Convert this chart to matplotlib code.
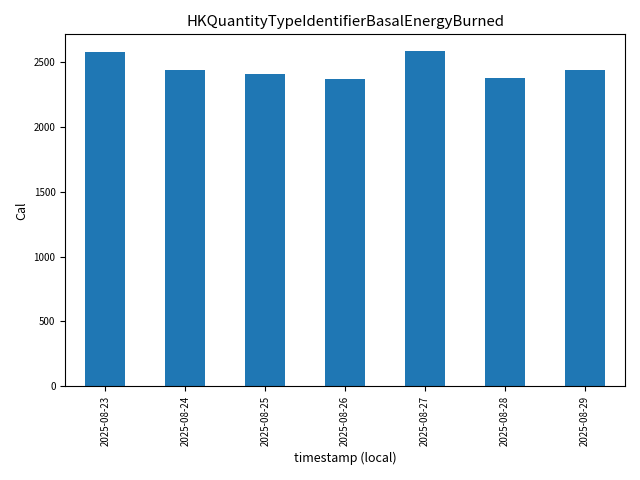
import matplotlib
matplotlib.use("Agg")
import matplotlib.pyplot as plt
import pandas as pd

plt.rcParams['font.family'] = ['Noto Sans CJK JP', 'DejaVu Sans']

dates = ["2025-08-23", "2025-08-24", "2025-08-25", "2025-08-26",
         "2025-08-27", "2025-08-28", "2025-08-29"]
cal = [2578, 2438, 2407, 2368, 2585, 2376, 2438]

s = pd.Series(cal, index=pd.Index(dates, name="timestamp (local)"))

fig, ax = plt.subplots(figsize=(6.4, 4.8), dpi=100)
s.plot(kind="bar", ax=ax, color="#1f77b4")
ax.set_title("HKQuantityTypeIdentifierBasalEnergyBurned", fontsize=10.8)
ax.set_ylabel("Cal", fontsize=9)
ax.set_xlabel("timestamp (local)", fontsize=9)
ax.tick_params(axis="both", labelsize=7)

plt.tight_layout()
plt.savefig("out.png", dpi=100)
